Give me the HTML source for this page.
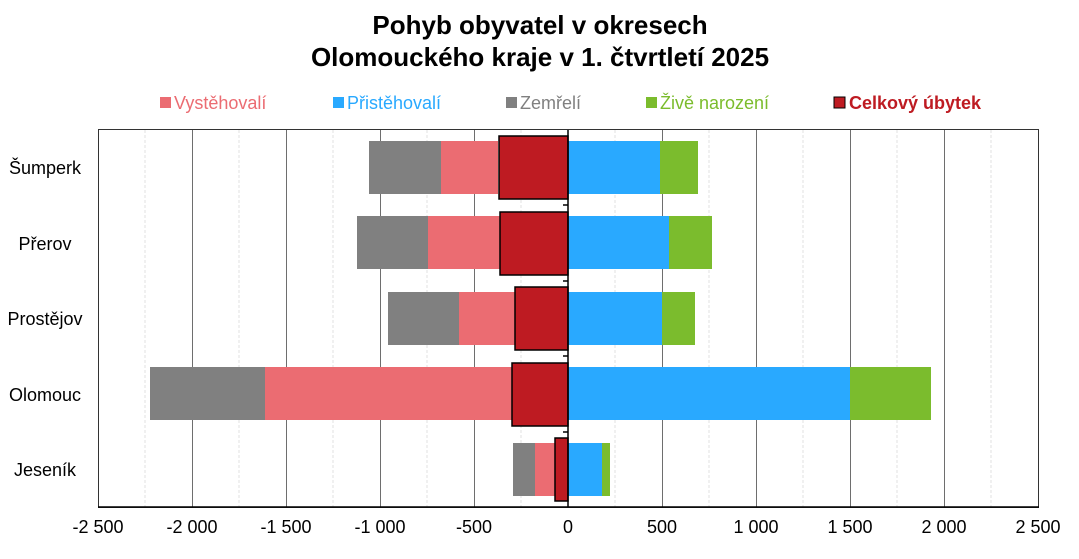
<!DOCTYPE html>
<html><head><meta charset="utf-8"><style>
body{margin:0;background:#fff;}
svg{display:block;font-family:"Liberation Sans",sans-serif;}
</style></head><body>
<svg width="1079" height="559" viewBox="0 0 1079 559">
<text x="540" y="34" text-anchor="middle" font-size="26" font-weight="bold">Pohyb obyvatel v okresech</text>
<text x="540" y="66" text-anchor="middle" font-size="26" font-weight="bold">Olomouckého kraje v 1. čtvrtletí 2025</text>
<g font-size="18">
<rect x="160" y="97" width="11" height="11" fill="#eb6c72"/><text x="174" y="109" fill="#eb6c72">Vystěhovalí</text>
<rect x="333" y="97" width="11" height="11" fill="#29a9ff"/><text x="347" y="109" fill="#29a9ff">Přistěhovalí</text>
<rect x="506" y="97" width="11" height="11" fill="#808080"/><text x="520" y="109" fill="#808080">Zemřelí</text>
<rect x="646" y="97" width="11" height="11" fill="#7bbc2d"/><text x="660" y="109" fill="#7bbc2d">Živě narození</text>
<rect x="834" y="97" width="11" height="11" fill="#be1b22" stroke="#000" stroke-width="1"/><text x="849" y="109" fill="#be1b22" font-weight="bold">Celkový úbytek</text>
</g>
<g stroke="#e0e0e0" stroke-dasharray="3,2">
<line x1="145" y1="130" x2="145" y2="507"/><line x1="239" y1="130" x2="239" y2="507"/><line x1="333" y1="130" x2="333" y2="507"/><line x1="427" y1="130" x2="427" y2="507"/><line x1="521" y1="130" x2="521" y2="507"/><line x1="615" y1="130" x2="615" y2="507"/><line x1="709" y1="130" x2="709" y2="507"/><line x1="803" y1="130" x2="803" y2="507"/><line x1="897" y1="130" x2="897" y2="507"/><line x1="991" y1="130" x2="991" y2="507"/>
</g>
<g stroke="#6e6e6e" stroke-width="1">
<line x1="192.5" y1="130" x2="192.5" y2="507"/><line x1="286.5" y1="130" x2="286.5" y2="507"/><line x1="380.5" y1="130" x2="380.5" y2="507"/><line x1="474.5" y1="130" x2="474.5" y2="507"/><line x1="662.5" y1="130" x2="662.5" y2="507"/><line x1="756.5" y1="130" x2="756.5" y2="507"/><line x1="850.5" y1="130" x2="850.5" y2="507"/><line x1="944.5" y1="130" x2="944.5" y2="507"/><line x1="1038.5" y1="130" x2="1038.5" y2="507"/>
</g>
<rect x="98.5" y="129.5" width="940" height="378" fill="none" stroke="#333" stroke-width="1"/>
<g>
<rect x="369" y="141" width="72" height="53" fill="#808080"/><rect x="441" y="141" width="57" height="53" fill="#eb6c72"/><rect x="568" y="141" width="92" height="53" fill="#29a9ff"/><rect x="660" y="141" width="38" height="53" fill="#7bbc2d"/>
<rect x="357" y="216" width="71" height="53" fill="#808080"/><rect x="428" y="216" width="72" height="53" fill="#eb6c72"/><rect x="568" y="216" width="101" height="53" fill="#29a9ff"/><rect x="669" y="216" width="43" height="53" fill="#7bbc2d"/>
<rect x="388" y="292" width="71" height="53" fill="#808080"/><rect x="459" y="292" width="56" height="53" fill="#eb6c72"/><rect x="568" y="292" width="94" height="53" fill="#29a9ff"/><rect x="662" y="292" width="33" height="53" fill="#7bbc2d"/>
<rect x="150" y="367" width="115" height="53" fill="#808080"/><rect x="265" y="367" width="247" height="53" fill="#eb6c72"/><rect x="568" y="367" width="282" height="53" fill="#29a9ff"/><rect x="850" y="367" width="81" height="53" fill="#7bbc2d"/>
<rect x="513" y="443" width="22" height="53" fill="#808080"/><rect x="535" y="443" width="20" height="53" fill="#eb6c72"/><rect x="568" y="443" width="34" height="53" fill="#29a9ff"/><rect x="602" y="443" width="8" height="53" fill="#7bbc2d"/>
</g>
<g fill="#be1b22" stroke="#000" stroke-width="1.5">
<rect x="499" y="136" width="69" height="63"/>
<rect x="500" y="212" width="68" height="63"/>
<rect x="515" y="287" width="53" height="63"/>
<rect x="512" y="363" width="56" height="63"/>
<rect x="555" y="438" width="13" height="63"/>
</g>
<g stroke="#000" stroke-width="1.5">
<line x1="568" y1="130" x2="568" y2="507"/>
<line x1="563" y1="205" x2="568" y2="205"/><line x1="563" y1="281" x2="568" y2="281"/><line x1="563" y1="356" x2="568" y2="356"/><line x1="563" y1="432" x2="568" y2="432"/>
<line x1="98" y1="507" x2="1039" y2="507"/>
</g>
<g font-size="18" text-anchor="middle">
<text x="98" y="533">-2 500</text><text x="192" y="533">-2 000</text><text x="286" y="533">-1 500</text><text x="380" y="533">-1 000</text><text x="474" y="533">-500</text><text x="568" y="533">0</text><text x="662" y="533">500</text><text x="756" y="533">1 000</text><text x="850" y="533">1 500</text><text x="944" y="533">2 000</text><text x="1038" y="533">2 500</text>
</g>
<g font-size="18" text-anchor="middle">
<text x="45" y="174">Šumperk</text><text x="45" y="250">Přerov</text><text x="45" y="325">Prostějov</text><text x="45" y="401">Olomouc</text><text x="45" y="476">Jeseník</text>
</g>
</svg>
</body></html>
